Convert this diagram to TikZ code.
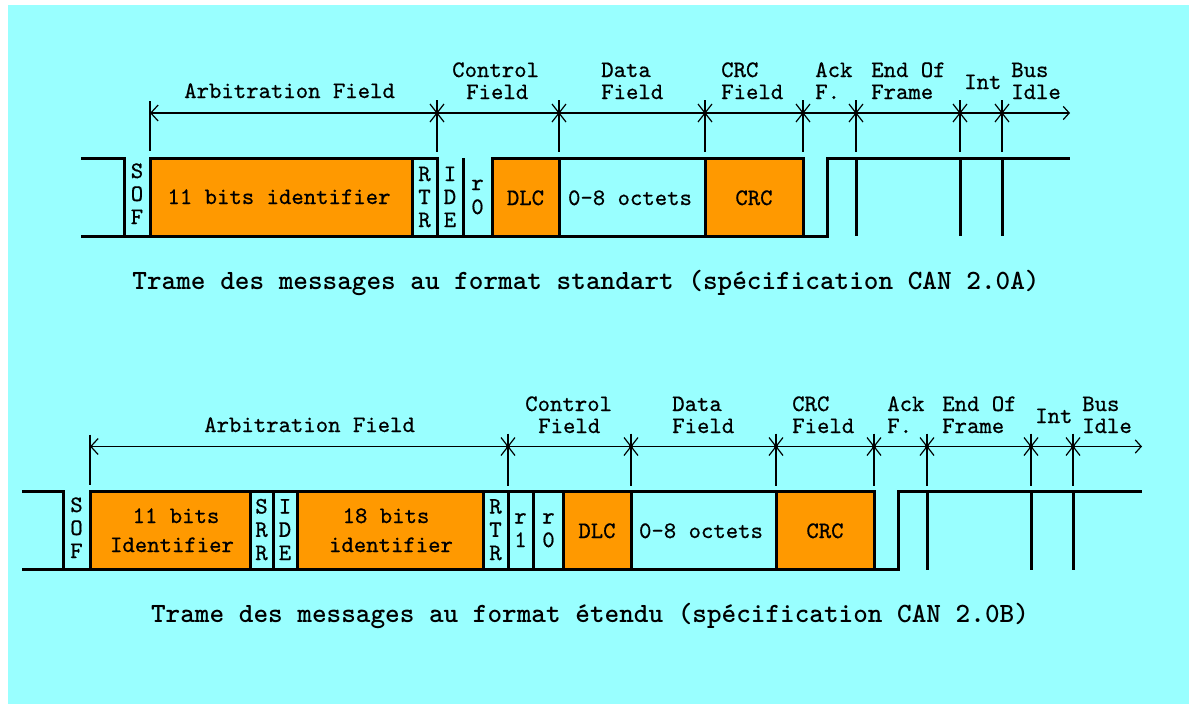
\documentclass[tikz,border=0pt]{standalone}
\usepackage{fontspec}
\usetikzlibrary{fit,arrows.meta}
\definecolor{bgcyan}{RGB}{153,255,255}
\definecolor{canorange}{RGB}{255,153,0}
\newfontfamily\labelmono{lmmono10-regular.otf}[FakeBold=0.6]
\newcommand\lbfont{\labelmono\fontsize{17.7}{17.25}\selectfont}
\newcommand\capfont{\ttfamily\bfseries\fontsize{20.9}{25}\selectfont}
\tikzset{
  bus/.style={line width=2.25pt},
  dimline/.style={line width=0.9pt},
  fieldbox/.style={inner sep=0pt, outer sep=0pt, line width=2.25pt},
  orangebox/.style={fieldbox, fill=canorange, draw=black},
  cyanbox/.style={fieldbox, draw=black},
  openbox/.style={fieldbox},
  boxtext/.style={inner sep=0pt, anchor=base, font=\lbfont},
  fieldlabel/.style={inner sep=0pt, anchor=base west, font=\lbfont},
  captext/.style={inner sep=0pt, anchor=base, font=\capfont},
  dimarrows/.style={{Straight Barb[length=5.5pt,width=12pt]}-{Straight Barb[length=4.5pt,width=10pt]}},
  starmark/.pic={
    \draw[dimline] (0,-13) -- (0,39);
    \draw[dimline] (-7,-9) -- (7,9) (-7,9) -- (7,-9);
    \fill (0,0) circle[radius=1.6pt];
  },
}
\begin{document}
\begin{tikzpicture}[x=0.75pt,y=-0.75pt]
\fill[white] (0,0) rectangle (1189,704);
\fill[bgcyan] (8,5) rectangle (1189,704);
\useasboundingbox (0,0) rectangle (1189,704);

% ================= standard frame =================
\coordinate (aS) at (81,158);
\coordinate (aD) at (124,158);
\coordinate (aL) at (81,236);
\coordinate (aAckB) at (827,236);
\coordinate (aAckT) at (827,158);
\coordinate (aE) at (1070,158);
\node[openbox, fit={(124,158)(150,236)}] (sofA) {};
\node[orangebox, fit={(150,158)(412,236)}] (idA) {};
\node[cyanbox, fit={(412,158)(437,236)}] (rtrA) {};
\node[openbox, fit={(437,158)(463,236)}] (ideA) {};
\node[openbox, fit={(463,158)(492,236)}] (rzA) {};
\node[orangebox, fit={(492,158)(559,236)}] (dlcA) {};
\node[cyanbox, fit={(559,158)(705,236)}] (dataA) {};
\node[orangebox, fit={(705,158)(803,236)}] (crcA) {};
\draw[bus] (aS) -- (aD) -- (sofA.south west);
\draw[bus] (aL) -- (aAckB) -- (aAckT) -- (aE);
\draw[bus] (ideA.north east) -- (ideA.south east);
\foreach \x in {856,960,1002} \draw[bus] (\x,158) -- (\x,236);

\foreach \t [count=\i from 0] in {S,O,F} \node[boxtext] (sofA-\i) at (137,178+23*\i) {\t};
\node[boxtext] (idAt) at (279,204) {11 bits identifier};
\foreach \t [count=\i from 0] in {R,T,R} \node[boxtext] (rtrA-\i) at (424.5,181+23*\i) {\t};
\foreach \t [count=\i from 0] in {I,D,E} \node[boxtext] (ideA-\i) at (450,181+23*\i) {\t};
\node[boxtext] (rzA-0) at (477.5,190) {r};
\node[boxtext] (rzA-1) at (477.5,214) {0};
\node[boxtext] (dlcAt) at (525.5,205) {DLC};
\node[boxtext] (dataAt) at (630,205) {0-8 octets};
\node[boxtext] (crcAt) at (754,205) {CRC};

\coordinate (dimAl) at (150,113);
\coordinate (dimAr) at (1070,113);
\draw[dimline] (150,101) -- (150,151);
\draw[dimline, dimarrows] (dimAl) -- (dimAr);
\foreach \x in {437,559,705,803,856,960,1002} \pic at (\x,113) {starmark};

\node[fieldlabel] (arbA) at (184,98) {Arbitration Field};
\node[fieldlabel] (ctlA1) at (452,77) {Control};
\node[fieldlabel] (ctlA2) at (466,99) {Field};
\node[fieldlabel] (datA1) at (601,77) {Data};
\node[fieldlabel] (datA2) at (601,99) {Field};
\node[fieldlabel] (crcA1) at (721,77) {CRC};
\node[fieldlabel] (crcA2) at (721,99) {Field};
\node[fieldlabel] (ackA1) at (815,77) {Ack};
\node[fieldlabel] (ackA2) at (815,99) {F.};
\node[fieldlabel] (eofA1) at (871,77) {End Of};
\node[fieldlabel] (eofA2) at (871,99) {Frame};
\node[fieldlabel] (intA) at (964,89) {Int};
\node[fieldlabel] (busA1) at (1011,77) {Bus};
\node[fieldlabel] (busA2) at (1011,99) {Idle};

\node[captext] (capA) at (586,289) {Trame des messages au format standart (spécification CAN 2.0A)};

% ================= extended frame =================
\coordinate (bS) at (22,491.5);
\coordinate (bD) at (63,491.5);
\coordinate (bL) at (22,569.5);
\coordinate (bAckB) at (898,569.5);
\coordinate (bAckT) at (898,491.5);
\coordinate (bE) at (1142,491.5);
\node[openbox, fit={(63,491.5)(90,569.5)}] (sofB) {};
\node[orangebox, fit={(90,491.5)(250,569.5)}] (idB) {};
\node[cyanbox, fit={(250,491.5)(273,569.5)}] (srrB) {};
\node[cyanbox, fit={(273,491.5)(297,569.5)}] (ideB) {};
\node[orangebox, fit={(297,491.5)(483,569.5)}] (idxB) {};
\node[cyanbox, fit={(483,491.5)(508,569.5)}] (rtrB) {};
\node[cyanbox, fit={(508,491.5)(533.5,569.5)}] (roB) {};
\node[cyanbox, fit={(533.5,491.5)(563,569.5)}] (rzB) {};
\node[orangebox, fit={(563,491.5)(631,569.5)}] (dlcB) {};
\node[cyanbox, fit={(631,491.5)(776,569.5)}] (dataB) {};
\node[orangebox, fit={(776,491.5)(874,569.5)}] (crcB) {};
\draw[bus] (bS) -- (bD) -- (sofB.south west);
\draw[bus] (bL) -- (bAckB) -- (bAckT) -- (bE);
\foreach \x in {927,1031,1073} \draw[bus] (\x,491.5) -- (\x,569.5);

\foreach \t [count=\i from 0] in {S,O,F} \node[boxtext] (sofB-\i) at (76.5,512+23*\i) {\t};
\node[boxtext] (idBt1) at (176,523) {11 bits};
\node[boxtext] (idBt2) at (172,552) {Identifier};
\foreach \t [count=\i from 0] in {S,R,R} \node[boxtext] (srrB-\i) at (261.5,513.5+23.25*\i) {\t};
\foreach \t [count=\i from 0] in {I,D,E} \node[boxtext] (ideB-\i) at (285,513.5+23.25*\i) {\t};
\node[boxtext] (idxBt1) at (386,523) {18 bits};
\node[boxtext] (idxBt2) at (391,552) {identifier};
\foreach \t [count=\i from 0] in {R,T,R} \node[boxtext] (rtrB-\i) at (495.5,513.5+23.25*\i) {\t};
\node[boxtext] (roB-0) at (520.5,523.5) {r};
\node[boxtext] (roB-1) at (520.5,547) {1};
\node[boxtext] (rzB-0) at (548.5,523.5) {r};
\node[boxtext] (rzB-1) at (548.5,547) {0};
\node[boxtext] (dlcBt) at (597,538) {DLC};
\node[boxtext] (dataBt) at (701,538) {0-8 octets};
\node[boxtext] (crcBt) at (825,538) {CRC};

\coordinate (dimBl) at (90,446.5);
\coordinate (dimBr) at (1142,446.5);
\draw[dimline] (90,434.5) -- (90,484.5);
\draw[dimline, dimarrows] (dimBl) -- (dimBr);
\foreach \x in {508,631,776,874,927,1031,1073} \pic at (\x,446.5) {starmark};

\node[fieldlabel] (arbB) at (204,432) {Arbitration Field};
\node[fieldlabel] (ctlB1) at (525,411) {Control};
\node[fieldlabel] (ctlB2) at (538,433) {Field};
\node[fieldlabel] (datB1) at (672,411) {Data};
\node[fieldlabel] (datB2) at (672,433) {Field};
\node[fieldlabel] (crcB1) at (792,411) {CRC};
\node[fieldlabel] (crcB2) at (792,433) {Field};
\node[fieldlabel] (ackB1) at (887,411) {Ack};
\node[fieldlabel] (ackB2) at (887,433) {F.};
\node[fieldlabel] (eofB1) at (942,411) {End Of};
\node[fieldlabel] (eofB2) at (942,433) {Frame};
\node[fieldlabel] (intB) at (1035,423) {Int};
\node[fieldlabel] (busB1) at (1082,411) {Bus};
\node[fieldlabel] (busB2) at (1082,433) {Idle};

\node[captext] (capB) at (590,622) {Trame des messages au format étendu (spécification CAN 2.0B)};
\end{tikzpicture}
\end{document}
